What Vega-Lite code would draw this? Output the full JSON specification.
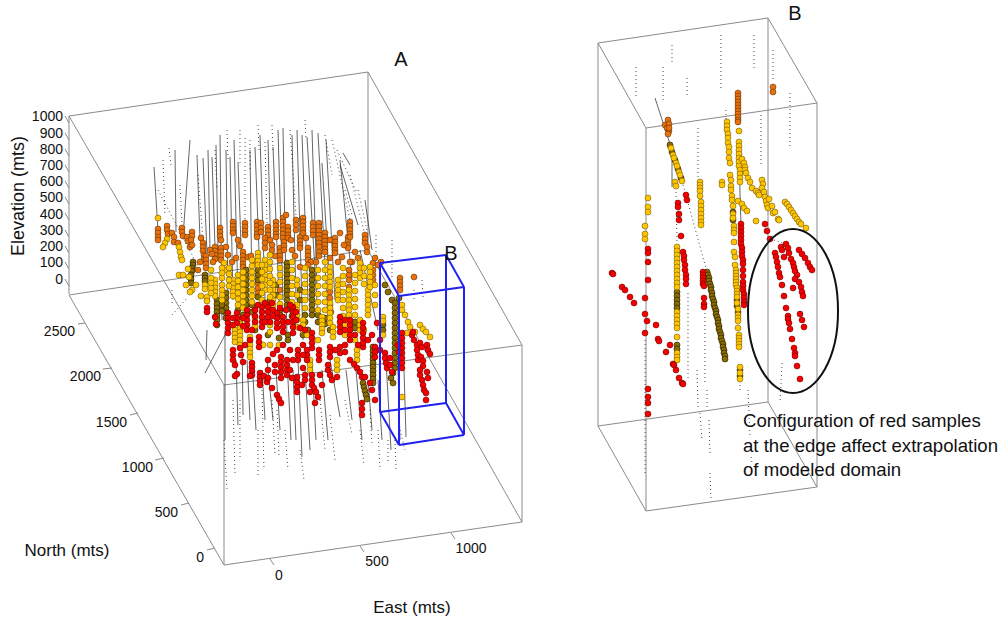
{"$schema":"https://vega.github.io/schema/vega-lite/v6.json","width":1003,"height":622,"autosize":{"type":"fit","contains":"padding"},"padding":0,"background":"white","config":{"view":{"stroke":null},"text":{"font":"Liberation Sans","color":"#111"}},
"encoding":{"x":{"field":"x","type":"quantitative","scale":{"domain":[0,1003],"nice":false,"zero":false},"axis":null},"y":{"field":"y","type":"quantitative","scale":{"domain":[622,0],"nice":false,"zero":false},"axis":null}},
"datasets":{
"wire":[{"x":69,"y":116,"x2":69,"y2":294},{"x":224,"y":385,"x2":224,"y2":565},{"x":368,"y":72,"x2":368,"y2":250},{"x":522,"y":345,"x2":522,"y2":522},{"x":69,"y":116,"x2":368,"y2":72},{"x":69,"y":116,"x2":224,"y2":385},{"x":368,"y":72,"x2":522,"y2":345},{"x":224,"y":385,"x2":522,"y2":345},{"x":69,"y":295,"x2":368,"y2":250},{"x":69,"y":295,"x2":224,"y2":565},{"x":368,"y":250,"x2":522,"y2":522},{"x":224,"y":565,"x2":522,"y2":522},
{"x":598,"y":43,"x2":598,"y2":426},{"x":646,"y":128,"x2":646,"y2":511},{"x":768,"y":18,"x2":768,"y2":402},{"x":817,"y":103,"x2":817,"y2":487},{"x":598,"y":43,"x2":768,"y2":18},{"x":598,"y":43,"x2":646,"y2":128},{"x":768,"y":18,"x2":817,"y2":103},{"x":646,"y":128,"x2":817,"y2":103},{"x":598,"y":426,"x2":768,"y2":402},{"x":598,"y":426,"x2":646,"y2":511},{"x":768,"y":402,"x2":817,"y2":487},{"x":646,"y":511,"x2":817,"y2":487},
{"x":65,"y":116,"x2":69,"y2":123},{"x":65,"y":133,"x2":69,"y2":140},{"x":65,"y":149,"x2":69,"y2":156},{"x":65,"y":165,"x2":69,"y2":172},{"x":65,"y":181,"x2":69,"y2":188},{"x":65,"y":197,"x2":69,"y2":204},{"x":65,"y":213,"x2":69,"y2":220},{"x":65,"y":230,"x2":69,"y2":237},{"x":65,"y":246,"x2":69,"y2":253},{"x":65,"y":262,"x2":69,"y2":269},{"x":65,"y":279,"x2":69,"y2":286},
{"x":78,"y":324,"x2":85,"y2":323},{"x":103,"y":369,"x2":112,"y2":368},{"x":130,"y":415,"x2":138,"y2":413},{"x":155,"y":460,"x2":164,"y2":458},{"x":181,"y":505,"x2":189,"y2":503},{"x":207,"y":550,"x2":215,"y2":548},{"x":270,"y":559,"x2":274,"y2":565},{"x":360,"y":546,"x2":364,"y2":552},{"x":451,"y":533,"x2":455,"y2":539}],
"blue":[{"x":380,"y":263,"x2":446,"y2":255},{"x":399,"y":296,"x2":464,"y2":287},{"x":380,"y":263,"x2":399,"y2":296},{"x":446,"y":255,"x2":464,"y2":287},{"x":380,"y":412,"x2":446,"y2":403},{"x":399,"y":445,"x2":464,"y2":435},{"x":380,"y":412,"x2":399,"y2":445},{"x":446,"y":403,"x2":464,"y2":435},{"x":380,"y":263,"x2":380,"y2":412},{"x":399,"y":296,"x2":399,"y2":445},{"x":446,"y":255,"x2":446,"y2":403},{"x":464,"y":287,"x2":464,"y2":435}],
"solid":[{"x":154,"y":167,"x2":158,"y2":230},{"x":190,"y":140,"x2":183,"y2":237},{"x":203,"y":158,"x2":207,"y2":253},{"x":212,"y":157,"x2":215,"y2":247},{"x":220,"y":135,"x2":222,"y2":320},{"x":230,"y":157,"x2":233,"y2":300},{"x":238,"y":162,"x2":243,"y2":300},{"x":255,"y":147,"x2":262,"y2":330},{"x":273,"y":147,"x2":280,"y2":320},{"x":283,"y":128,"x2":287,"y2":340},{"x":297,"y":130,"x2":303,"y2":340},{"x":307,"y":137,"x2":318,"y2":320},{"x":318,"y":133,"x2":328,"y2":320},{"x":322,"y":163,"x2":330,"y2":290},{"x":343,"y":153,"x2":350,"y2":165},{"x":365,"y":200,"x2":372,"y2":250},{"x":206,"y":360,"x2":207,"y2":330},{"x":225,"y":330,"x2":225,"y2":440},{"x":242,"y":340,"x2":243,"y2":415},{"x":252,"y":360,"x2":256,"y2":430},{"x":267,"y":360,"x2":273,"y2":420},{"x":287,"y":360,"x2":291,"y2":440},{"x":298,"y":360,"x2":302,"y2":457},{"x":312,"y":360,"x2":316,"y2":440},{"x":330,"y":360,"x2":340,"y2":417},{"x":356,"y":370,"x2":362,"y2":440},{"x":386,"y":360,"x2":391,"y2":450},{"x":404,"y":370,"x2":406,"y2":437},{"x":205,"y":373,"x2":226,"y2":333},{"x":175,"y":150,"x2":176,"y2":232},{"x":197,"y":155,"x2":200,"y2":240},{"x":208,"y":150,"x2":210,"y2":250},{"x":216,"y":145,"x2":218,"y2":250},{"x":226,"y":150,"x2":228,"y2":300},{"x":234,"y":140,"x2":238,"y2":300},{"x":250,"y":150,"x2":252,"y2":300},{"x":260,"y":135,"x2":265,"y2":300},{"x":268,"y":140,"x2":272,"y2":300},{"x":278,"y":130,"x2":283,"y2":300},{"x":292,"y":135,"x2":296,"y2":300},{"x":302,"y":135,"x2":308,"y2":300},{"x":312,"y":130,"x2":317,"y2":290},{"x":326,"y":140,"x2":335,"y2":300},{"x":340,"y":160,"x2":352,"y2":280},{"x":236,"y":360,"x2":238,"y2":425},{"x":247,"y":360,"x2":250,"y2":420},{"x":262,"y":370,"x2":265,"y2":420},{"x":276,"y":370,"x2":280,"y2":430},{"x":293,"y":370,"x2":296,"y2":440},{"x":305,"y":370,"x2":310,"y2":450},{"x":322,"y":370,"x2":328,"y2":440},{"x":346,"y":370,"x2":352,"y2":420},{"x":368,"y":380,"x2":372,"y2":430},{"x":378,"y":380,"x2":382,"y2":440},{"x":398,"y":370,"x2":400,"y2":440},{"x":340,"y":165,"x2":358,"y2":225},{"x":360,"y":250,"x2":378,"y2":330},{"x":655,"y":98,"x2":682,"y2":181},{"x":672,"y":153,"x2":672,"y2":187},{"x":739,"y":160,"x2":741,"y2":225}],
"dotted":[{"x":169,"y":148,"x2":171,"y2":165},{"x":198,"y":175,"x2":203,"y2":240},{"x":245,"y":138,"x2":245,"y2":230},{"x":265,"y":142,"x2":267,"y2":223},{"x":290,"y":130,"x2":296,"y2":215},{"x":332,"y":140,"x2":350,"y2":220},{"x":337,"y":150,"x2":357,"y2":193},{"x":358,"y":190,"x2":368,"y2":235},{"x":158,"y":190,"x2":200,"y2":270},{"x":172,"y":290,"x2":172,"y2":305},{"x":172,"y":315,"x2":187,"y2":298},{"x":376,"y":235,"x2":376,"y2":270},{"x":392,"y":240,"x2":392,"y2":280},{"x":414,"y":290,"x2":414,"y2":300},{"x":422,"y":280,"x2":423,"y2":298},{"x":224,"y":440,"x2":227,"y2":490},{"x":240,"y":400,"x2":240,"y2":460},{"x":258,"y":430,"x2":258,"y2":478},{"x":277,"y":410,"x2":279,"y2":455},{"x":320,"y":400,"x2":325,"y2":450},{"x":345,"y":400,"x2":352,"y2":435},{"x":370,"y":410,"x2":372,"y2":445},{"x":388,"y":440,"x2":388,"y2":462},{"x":400,"y":430,"x2":405,"y2":450},{"x":163,"y":160,"x2":165,"y2":215},{"x":180,"y":185,"x2":182,"y2":225},{"x":227,"y":130,"x2":228,"y2":160},{"x":240,"y":130,"x2":240,"y2":165},{"x":258,"y":125,"x2":259,"y2":150},{"x":272,"y":125,"x2":273,"y2":150},{"x":305,"y":120,"x2":306,"y2":140},{"x":325,"y":135,"x2":332,"y2":175},{"x":350,"y":175,"x2":365,"y2":235},{"x":345,"y":190,"x2":352,"y2":215},{"x":215,"y":150,"x2":217,"y2":190},{"x":250,"y":140,"x2":250,"y2":170},{"x":262,"y":390,"x2":264,"y2":470},{"x":233,"y":400,"x2":235,"y2":475},{"x":272,"y":400,"x2":275,"y2":455},{"x":285,"y":430,"x2":288,"y2":470},{"x":300,"y":450,"x2":304,"y2":480},{"x":330,"y":415,"x2":335,"y2":460},{"x":360,"y":430,"x2":364,"y2":465},{"x":378,"y":430,"x2":380,"y2":470},{"x":395,"y":440,"x2":396,"y2":470},
{"x":636,"y":67,"x2":636,"y2":98},{"x":663,"y":67,"x2":663,"y2":100},{"x":687,"y":78,"x2":687,"y2":95},{"x":721,"y":35,"x2":721,"y2":88},{"x":773,"y":50,"x2":773,"y2":82},{"x":790,"y":93,"x2":790,"y2":147},{"x":761,"y":115,"x2":761,"y2":167},{"x":698,"y":128,"x2":698,"y2":180},{"x":754,"y":35,"x2":754,"y2":68},{"x":726,"y":110,"x2":726,"y2":120},{"x":672,"y":45,"x2":672,"y2":62},{"x":682,"y":181,"x2":707,"y2":272},{"x":645,"y":340,"x2":645,"y2":475},{"x":688,"y":293,"x2":688,"y2":380},{"x":705,"y":313,"x2":705,"y2":383},{"x":697,"y":370,"x2":698,"y2":407},{"x":700,"y":413,"x2":702,"y2":440},{"x":707,"y":390,"x2":707,"y2":410},{"x":709,"y":420,"x2":710,"y2":455},{"x":710,"y":473,"x2":711,"y2":500},{"x":748,"y":390,"x2":750,"y2":437},{"x":751,"y":457,"x2":752,"y2":463},{"x":782,"y":363,"x2":780,"y2":403},{"x":676,"y":188,"x2":677,"y2":243},{"x":740,"y":377,"x2":740,"y2":390},{"x":770,"y":239,"x2":786,"y2":244}],
"orange":[{"x":158,"y":229},{"x":158,"y":233},{"x":158,"y":237},{"x":158,"y":240},{"x":167,"y":226},{"x":167,"y":230},{"x":168,"y":234},{"x":172,"y":233},{"x":174,"y":237},{"x":182,"y":228},{"x":182,"y":232},{"x":183,"y":236},{"x":187,"y":237},{"x":188,"y":241},{"x":192,"y":232},{"x":192,"y":236},{"x":191,"y":240},{"x":190,"y":247},{"x":192,"y":245},{"x":174,"y":242},{"x":178,"y":243},{"x":201,"y":238},{"x":203,"y":243},{"x":203,"y":247},{"x":203,"y":251},{"x":204,"y":255},{"x":204,"y":259},{"x":206,"y":256},{"x":206,"y":260},{"x":206,"y":264},{"x":206,"y":268},{"x":215,"y":247},{"x":215,"y":251},{"x":215,"y":255},{"x":215,"y":259},{"x":220,"y":228},{"x":220,"y":232},{"x":220,"y":236},{"x":221,"y":240},{"x":221,"y":248},{"x":221,"y":252},{"x":221,"y":256},{"x":221,"y":260},{"x":233,"y":222},{"x":233,"y":226},{"x":233,"y":230},{"x":233,"y":233},{"x":245,"y":223},{"x":245,"y":227},{"x":245,"y":231},{"x":245,"y":235},{"x":243,"y":252},{"x":243,"y":256},{"x":243,"y":260},{"x":243,"y":264},{"x":243,"y":267},{"x":248,"y":257},{"x":257,"y":222},{"x":257,"y":226},{"x":257,"y":230},{"x":257,"y":234},{"x":257,"y":237},{"x":261,"y":223},{"x":261,"y":228},{"x":261,"y":232},{"x":268,"y":227},{"x":268,"y":231},{"x":268,"y":235},{"x":265,"y":238},{"x":265,"y":243},{"x":265,"y":248},{"x":276,"y":222},{"x":276,"y":226},{"x":276,"y":230},{"x":276,"y":234},{"x":276,"y":237},{"x":283,"y":218},{"x":283,"y":222},{"x":283,"y":226},{"x":283,"y":230},{"x":283,"y":234},{"x":283,"y":238},{"x":286,"y":215},{"x":288,"y":227},{"x":288,"y":231},{"x":288,"y":235},{"x":288,"y":238},{"x":280,"y":248},{"x":280,"y":252},{"x":280,"y":256},{"x":280,"y":260},{"x":284,"y":242},{"x":284,"y":246},{"x":284,"y":250},{"x":296,"y":220},{"x":296,"y":225},{"x":296,"y":230},{"x":300,"y":237},{"x":300,"y":241},{"x":300,"y":245},{"x":300,"y":248},{"x":303,"y":218},{"x":303,"y":222},{"x":303,"y":226},{"x":303,"y":230},{"x":303,"y":233},{"x":308,"y":248},{"x":308,"y":252},{"x":308,"y":256},{"x":308,"y":260},{"x":313,"y":223},{"x":313,"y":227},{"x":313,"y":231},{"x":313,"y":235},{"x":319,"y":223},{"x":319,"y":227},{"x":319,"y":231},{"x":319,"y":235},{"x":319,"y":239},{"x":319,"y":243},{"x":319,"y":247},{"x":319,"y":252},{"x":319,"y":256},{"x":325,"y":233},{"x":325,"y":237},{"x":325,"y":241},{"x":325,"y":245},{"x":325,"y":249},{"x":325,"y":252},{"x":335,"y":238},{"x":335,"y":242},{"x":335,"y":246},{"x":335,"y":250},{"x":335,"y":253},{"x":340,"y":233},{"x":348,"y":237},{"x":348,"y":241},{"x":348,"y":245},{"x":348,"y":248},{"x":350,"y":222},{"x":350,"y":226},{"x":350,"y":230},{"x":350,"y":234},{"x":350,"y":237},{"x":342,"y":257},{"x":365,"y":235},{"x":365,"y":239},{"x":365,"y":243},{"x":367,"y":247},{"x":367,"y":252},{"x":381,"y":262},{"x":373,"y":263},{"x":373,"y":270},{"x":373,"y":275},{"x":373,"y":280},{"x":349,"y":270},{"x":349,"y":275},{"x":349,"y":280},{"x":349,"y":287},{"x":330,"y":292},{"x":330,"y":298},{"x":300,"y":267},{"x":245,"y":283},{"x":258,"y":283},{"x":258,"y":288},{"x":258,"y":293},{"x":400,"y":278},{"x":400,"y":282},{"x":400,"y":286},{"x":400,"y":290},{"x":414,"y":277},{"x":210,"y":250},{"x":212,"y":254},{"x":228,"y":255},{"x":232,"y":262},{"x":236,"y":258},{"x":251,"y":256},{"x":254,"y":262},{"x":272,"y":250},{"x":275,"y":256},{"x":292,"y":250},{"x":295,"y":256},{"x":311,"y":262},{"x":316,"y":262},{"x":338,"y":262},{"x":355,"y":252},{"x":358,"y":258},{"x":226,"y":247},{"x":238,"y":240},{"x":240,"y":246},{"x":270,"y":240},{"x":272,"y":245},{"x":291,"y":240},{"x":306,"y":238},{"x":330,"y":240},{"x":344,"y":245},{"x":352,"y":262},{"x":375,"y":258},{"x":378,"y":265},{"x":330,"y":258},{"x":213,"y":262},{"x":200,"y":262},{"x":198,"y":270},{"x":238,"y":285},{"x":280,"y":290},{"x":308,"y":265},{"x":330,"y":305},{"x":331,"y":312},{"x":350,"y":262},{"x":738,"y":93},{"x":738,"y":96},{"x":738,"y":99},{"x":738,"y":102},{"x":738,"y":105},{"x":738,"y":108},{"x":738,"y":111},{"x":738,"y":114},{"x":738,"y":117},{"x":738,"y":120},{"x":738,"y":122},{"x":773,"y":87},{"x":773,"y":92},{"x":665,"y":125},{"x":667,"y":128},{"x":669,"y":131},{"x":668,"y":120},{"x":669,"y":124},{"x":669,"y":128},{"x":668,"y":134}],
"dark":[{"x":193,"y":262},{"x":193,"y":265},{"x":192,"y":268},{"x":192,"y":271},{"x":191,"y":275},{"x":191,"y":279},{"x":191,"y":283},{"x":205,"y":275},{"x":205,"y":278},{"x":205,"y":281},{"x":217,"y":300},{"x":217,"y":304},{"x":217,"y":308},{"x":217,"y":312},{"x":217,"y":316},{"x":217,"y":320},{"x":217,"y":325},{"x":246,"y":270},{"x":246,"y":275},{"x":246,"y":280},{"x":246,"y":285},{"x":246,"y":290},{"x":246,"y":295},{"x":246,"y":300},{"x":246,"y":305},{"x":226,"y":293},{"x":226,"y":298},{"x":226,"y":303},{"x":226,"y":308},{"x":226,"y":313},{"x":226,"y":318},{"x":258,"y":270},{"x":258,"y":275},{"x":258,"y":280},{"x":258,"y":297},{"x":287,"y":263},{"x":287,"y":267},{"x":287,"y":271},{"x":287,"y":275},{"x":287,"y":279},{"x":287,"y":283},{"x":287,"y":287},{"x":287,"y":291},{"x":287,"y":295},{"x":287,"y":300},{"x":287,"y":305},{"x":312,"y":270},{"x":312,"y":275},{"x":312,"y":280},{"x":312,"y":285},{"x":312,"y":290},{"x":312,"y":295},{"x":312,"y":300},{"x":312,"y":305},{"x":312,"y":310},{"x":312,"y":315},{"x":276,"y":285},{"x":276,"y":295},{"x":300,"y":290},{"x":300,"y":300},{"x":303,"y":335},{"x":288,"y":335},{"x":288,"y":340},{"x":222,"y":305},{"x":222,"y":311},{"x":252,"y":305},{"x":252,"y":312},{"x":280,"y":310},{"x":280,"y":315},{"x":305,"y":315},{"x":305,"y":322},{"x":318,"y":315},{"x":318,"y":322},{"x":343,"y":325},{"x":355,"y":322},{"x":355,"y":328},{"x":270,"y":300},{"x":270,"y":305},{"x":292,"y":310},{"x":292,"y":316},{"x":238,"y":310},{"x":243,"y":315},{"x":255,"y":330},{"x":268,"y":335},{"x":279,"y":338},{"x":308,"y":330},{"x":325,"y":318},{"x":325,"y":324},{"x":330,"y":330},{"x":373,"y":347},{"x":373,"y":351},{"x":373,"y":355},{"x":373,"y":359},{"x":373,"y":363},{"x":373,"y":367},{"x":373,"y":371},{"x":373,"y":375},{"x":373,"y":379},{"x":373,"y":383},{"x":363,"y":383},{"x":364,"y":387},{"x":365,"y":391},{"x":366,"y":395},{"x":367,"y":399},{"x":385,"y":285},{"x":388,"y":292},{"x":392,"y":300},{"x":395,"y":303},{"x":395,"y":308},{"x":395,"y":313},{"x":395,"y":318},{"x":395,"y":323},{"x":395,"y":328},{"x":395,"y":333},{"x":395,"y":338},{"x":395,"y":343},{"x":395,"y":348},{"x":395,"y":353},{"x":395,"y":358},{"x":395,"y":363},{"x":395,"y":368},{"x":393,"y":373},{"x":391,"y":378},{"x":393,"y":383},{"x":383,"y":325},{"x":383,"y":330},{"x":399,"y":298},{"x":707,"y":272},{"x":708,"y":275},{"x":709,"y":278},{"x":709,"y":281},{"x":710,"y":284},{"x":711,"y":287},{"x":711,"y":290},{"x":712,"y":293},{"x":712,"y":296},{"x":713,"y":299},{"x":714,"y":302},{"x":714,"y":305},{"x":715,"y":308},{"x":716,"y":311},{"x":716,"y":314},{"x":717,"y":317},{"x":718,"y":320},{"x":718,"y":323},{"x":719,"y":326},{"x":719,"y":329},{"x":720,"y":332},{"x":721,"y":335},{"x":721,"y":338},{"x":722,"y":341},{"x":723,"y":344},{"x":723,"y":347},{"x":724,"y":350},{"x":724,"y":353},{"x":725,"y":356},{"x":725,"y":359},{"x":677,"y":292},{"x":677,"y":296},{"x":677,"y":300},{"x":677,"y":304},{"x":677,"y":308},{"x":677,"y":345},{"x":677,"y":349},{"x":670,"y":145},{"x":672,"y":152},{"x":675,"y":160},{"x":678,"y":169},{"x":681,"y":178},{"x":737,"y":300},{"x":737,"y":306},{"x":738,"y":312},{"x":740,"y":370},{"x":740,"y":376},{"x":733,"y":212},{"x":733,"y":220}],
"yellow":[{"x":158,"y":218},{"x":167,"y":239},{"x":165,"y":243},{"x":163,"y":247},{"x":179,"y":247},{"x":180,"y":252},{"x":181,"y":257},{"x":182,"y":260},{"x":188,"y":269},{"x":189,"y":277},{"x":179,"y":275},{"x":183,"y":275},{"x":186,"y":285},{"x":192,"y":290},{"x":190,"y":292},{"x":196,"y":285},{"x":201,"y":296},{"x":207,"y":297},{"x":207,"y":301},{"x":205,"y":285},{"x":205,"y":289},{"x":215,"y":280},{"x":215,"y":284},{"x":215,"y":288},{"x":215,"y":292},{"x":215,"y":296},{"x":211,"y":270},{"x":224,"y":263},{"x":226,"y":270},{"x":222,"y":285},{"x":233,"y":280},{"x":233,"y":284},{"x":233,"y":288},{"x":233,"y":292},{"x":233,"y":296},{"x":235,"y":330},{"x":235,"y":334},{"x":235,"y":338},{"x":235,"y":342},{"x":240,"y":320},{"x":240,"y":324},{"x":240,"y":328},{"x":240,"y":332},{"x":240,"y":336},{"x":240,"y":340},{"x":240,"y":345},{"x":250,"y":337},{"x":250,"y":341},{"x":250,"y":345},{"x":250,"y":349},{"x":250,"y":353},{"x":250,"y":357},{"x":258,"y":253},{"x":258,"y":257},{"x":258,"y":261},{"x":258,"y":265},{"x":265,"y":260},{"x":265,"y":265},{"x":265,"y":270},{"x":265,"y":275},{"x":265,"y":280},{"x":265,"y":285},{"x":265,"y":290},{"x":273,"y":280},{"x":273,"y":285},{"x":273,"y":290},{"x":273,"y":295},{"x":273,"y":300},{"x":273,"y":305},{"x":297,"y":280},{"x":297,"y":285},{"x":297,"y":295},{"x":297,"y":305},{"x":297,"y":310},{"x":297,"y":315},{"x":297,"y":320},{"x":297,"y":327},{"x":303,"y":320},{"x":303,"y":325},{"x":303,"y":330},{"x":322,"y":317},{"x":322,"y":321},{"x":322,"y":325},{"x":322,"y":329},{"x":322,"y":333},{"x":330,"y":267},{"x":330,"y":272},{"x":330,"y":277},{"x":330,"y":282},{"x":330,"y":287},{"x":330,"y":303},{"x":330,"y":308},{"x":330,"y":313},{"x":330,"y":318},{"x":330,"y":323},{"x":338,"y":280},{"x":338,"y":285},{"x":338,"y":290},{"x":338,"y":295},{"x":338,"y":300},{"x":349,"y":290},{"x":349,"y":295},{"x":349,"y":300},{"x":349,"y":305},{"x":349,"y":310},{"x":349,"y":315},{"x":360,"y":263},{"x":360,"y":268},{"x":360,"y":273},{"x":360,"y":278},{"x":368,"y":290},{"x":368,"y":295},{"x":368,"y":300},{"x":368,"y":305},{"x":368,"y":310},{"x":368,"y":315},{"x":360,"y":320},{"x":360,"y":325},{"x":360,"y":330},{"x":370,"y":267},{"x":370,"y":272},{"x":370,"y":277},{"x":370,"y":282},{"x":370,"y":287},{"x":333,"y":327},{"x":333,"y":332},{"x":333,"y":337},{"x":310,"y":360},{"x":310,"y":365},{"x":310,"y":370},{"x":337,"y":360},{"x":337,"y":365},{"x":337,"y":370},{"x":357,"y":350},{"x":357,"y":355},{"x":357,"y":360},{"x":383,"y":317},{"x":383,"y":321},{"x":383,"y":335},{"x":402,"y":305},{"x":402,"y":310},{"x":405,"y":315},{"x":408,"y":322},{"x":410,"y":327},{"x":420,"y":325},{"x":423,"y":329},{"x":426,"y":332},{"x":430,"y":337},{"x":407,"y":333},{"x":415,"y":332},{"x":402,"y":397},{"x":211,"y":278},{"x":211,"y":283},{"x":211,"y":288},{"x":211,"y":293},{"x":222,"y":268},{"x":222,"y":273},{"x":222,"y":278},{"x":222,"y":290},{"x":222,"y":295},{"x":222,"y":300},{"x":229,"y":268},{"x":229,"y":274},{"x":229,"y":280},{"x":229,"y":286},{"x":238,"y":275},{"x":238,"y":281},{"x":238,"y":287},{"x":238,"y":293},{"x":238,"y":299},{"x":238,"y":305},{"x":243,"y":272},{"x":243,"y":278},{"x":243,"y":284},{"x":243,"y":290},{"x":243,"y":296},{"x":243,"y":302},{"x":243,"y":308},{"x":252,"y":260},{"x":252,"y":266},{"x":252,"y":272},{"x":252,"y":278},{"x":252,"y":284},{"x":252,"y":290},{"x":252,"y":296},{"x":252,"y":302},{"x":255,"y":310},{"x":255,"y":318},{"x":255,"y":326},{"x":262,"y":265},{"x":262,"y":272},{"x":262,"y":279},{"x":262,"y":286},{"x":262,"y":293},{"x":262,"y":300},{"x":270,"y":255},{"x":270,"y":262},{"x":270,"y":269},{"x":270,"y":276},{"x":270,"y":283},{"x":270,"y":290},{"x":270,"y":297},{"x":270,"y":325},{"x":270,"y":332},{"x":280,"y":268},{"x":280,"y":275},{"x":280,"y":282},{"x":280,"y":297},{"x":280,"y":304},{"x":292,"y":262},{"x":292,"y":270},{"x":292,"y":278},{"x":292,"y":286},{"x":292,"y":294},{"x":292,"y":302},{"x":305,"y":268},{"x":305,"y":276},{"x":305,"y":284},{"x":305,"y":292},{"x":305,"y":300},{"x":305,"y":308},{"x":318,"y":270},{"x":318,"y":278},{"x":318,"y":286},{"x":318,"y":294},{"x":318,"y":302},{"x":318,"y":310},{"x":325,"y":262},{"x":325,"y":270},{"x":325,"y":278},{"x":325,"y":286},{"x":325,"y":294},{"x":325,"y":302},{"x":325,"y":310},{"x":343,"y":268},{"x":343,"y":276},{"x":343,"y":284},{"x":343,"y":292},{"x":343,"y":300},{"x":343,"y":308},{"x":343,"y":316},{"x":355,"y":275},{"x":355,"y":283},{"x":355,"y":291},{"x":355,"y":299},{"x":355,"y":307},{"x":355,"y":315},{"x":364,"y":268},{"x":364,"y":276},{"x":364,"y":284},{"x":364,"y":330},{"x":375,"y":285},{"x":375,"y":295},{"x":375,"y":305},{"x":345,"y":325},{"x":345,"y":335},{"x":355,"y":340},{"x":307,"y":335},{"x":318,"y":340},{"x":279,"y":345},{"x":270,"y":345},{"x":263,"y":345},{"x":648,"y":198},{"x":648,"y":207},{"x":648,"y":212},{"x":645,"y":226},{"x":645,"y":234},{"x":645,"y":239},{"x":671,"y":148},{"x":673,"y":155},{"x":674,"y":158},{"x":676,"y":163},{"x":677,"y":166},{"x":679,"y":172},{"x":680,"y":175},{"x":682,"y":181},{"x":675,"y":182},{"x":676,"y":186},{"x":700,"y":182},{"x":700,"y":185},{"x":700,"y":188},{"x":700,"y":191},{"x":700,"y":196},{"x":701,"y":202},{"x":701,"y":206},{"x":701,"y":210},{"x":701,"y":214},{"x":701,"y":218},{"x":701,"y":222},{"x":701,"y":225},{"x":722,"y":182},{"x":722,"y":185},{"x":727,"y":122},{"x":727,"y":126},{"x":727,"y":130},{"x":728,"y":134},{"x":728,"y":138},{"x":728,"y":143},{"x":729,"y":147},{"x":729,"y":152},{"x":729,"y":158},{"x":730,"y":163},{"x":730,"y":175},{"x":731,"y":180},{"x":731,"y":186},{"x":731,"y":190},{"x":732,"y":196},{"x":732,"y":200},{"x":733,"y":206},{"x":733,"y":214},{"x":733,"y":218},{"x":734,"y":226},{"x":734,"y":230},{"x":734,"y":233},{"x":734,"y":242},{"x":734,"y":252},{"x":735,"y":257},{"x":735,"y":265},{"x":736,"y":270},{"x":736,"y":273},{"x":736,"y":276},{"x":736,"y":279},{"x":736,"y":282},{"x":736,"y":285},{"x":737,"y":288},{"x":737,"y":291},{"x":737,"y":294},{"x":737,"y":297},{"x":737,"y":303},{"x":738,"y":309},{"x":738,"y":315},{"x":738,"y":318},{"x":738,"y":321},{"x":738,"y":328},{"x":739,"y":335},{"x":739,"y":338},{"x":739,"y":341},{"x":739,"y":344},{"x":739,"y":347},{"x":740,"y":367},{"x":740,"y":373},{"x":740,"y":379},{"x":739,"y":131},{"x":739,"y":142},{"x":739,"y":146},{"x":739,"y":150},{"x":739,"y":154},{"x":739,"y":158},{"x":739,"y":162},{"x":739,"y":166},{"x":740,"y":170},{"x":740,"y":174},{"x":740,"y":178},{"x":740,"y":182},{"x":742,"y":159},{"x":744,"y":163},{"x":745,"y":167},{"x":745,"y":170},{"x":746,"y":173},{"x":748,"y":178},{"x":750,"y":182},{"x":752,"y":188},{"x":756,"y":191},{"x":758,"y":193},{"x":759,"y":195},{"x":762,"y":180},{"x":763,"y":184},{"x":762,"y":188},{"x":764,"y":192},{"x":765,"y":197},{"x":766,"y":201},{"x":767,"y":205},{"x":768,"y":208},{"x":769,"y":199},{"x":772,"y":206},{"x":773,"y":213},{"x":775,"y":212},{"x":778,"y":219},{"x":779,"y":220},{"x":785,"y":202},{"x":787,"y":204},{"x":789,"y":207},{"x":791,"y":210},{"x":793,"y":213},{"x":795,"y":216},{"x":797,"y":219},{"x":799,"y":222},{"x":801,"y":224},{"x":806,"y":228},{"x":738,"y":201},{"x":742,"y":204},{"x":744,"y":208},{"x":747,"y":211},{"x":756,"y":221},{"x":677,"y":247},{"x":677,"y":251},{"x":677,"y":255},{"x":677,"y":259},{"x":677,"y":263},{"x":677,"y":267},{"x":677,"y":271},{"x":677,"y":275},{"x":677,"y":279},{"x":677,"y":283},{"x":677,"y":287},{"x":677,"y":312},{"x":677,"y":316},{"x":677,"y":320},{"x":677,"y":324},{"x":677,"y":328},{"x":677,"y":337},{"x":677,"y":353},{"x":677,"y":357},{"x":677,"y":360}],
"red":[{"x":207,"y":308},{"x":207,"y":312},{"x":215,"y":317},{"x":216,"y":324},{"x":228,"y":313},{"x":228,"y":318},{"x":228,"y":323},{"x":228,"y":328},{"x":228,"y":333},{"x":237,"y":313},{"x":237,"y":318},{"x":237,"y":323},{"x":247,"y":310},{"x":247,"y":315},{"x":247,"y":320},{"x":247,"y":325},{"x":247,"y":330},{"x":262,"y":307},{"x":262,"y":312},{"x":262,"y":317},{"x":262,"y":322},{"x":262,"y":327},{"x":268,"y":307},{"x":268,"y":312},{"x":268,"y":317},{"x":272,"y":303},{"x":277,"y":313},{"x":277,"y":318},{"x":277,"y":323},{"x":277,"y":328},{"x":283,"y":317},{"x":283,"y":322},{"x":283,"y":327},{"x":283,"y":332},{"x":293,"y":307},{"x":293,"y":312},{"x":293,"y":317},{"x":293,"y":322},{"x":293,"y":327},{"x":293,"y":333},{"x":233,"y":350},{"x":233,"y":355},{"x":233,"y":360},{"x":250,"y":340},{"x":259,"y":337},{"x":259,"y":342},{"x":259,"y":347},{"x":240,"y":348},{"x":252,"y":363},{"x":252,"y":367},{"x":252,"y":371},{"x":252,"y":375},{"x":237,"y":374},{"x":235,"y":376},{"x":250,"y":376},{"x":260,"y":373},{"x":260,"y":377},{"x":260,"y":381},{"x":260,"y":385},{"x":264,"y":376},{"x":267,"y":382},{"x":272,"y":388},{"x":277,"y":395},{"x":279,"y":399},{"x":281,"y":403},{"x":268,"y":360},{"x":273,"y":354},{"x":277,"y":350},{"x":281,"y":357},{"x":281,"y":362},{"x":281,"y":367},{"x":281,"y":372},{"x":281,"y":378},{"x":287,"y":360},{"x":287,"y":365},{"x":287,"y":370},{"x":287,"y":375},{"x":298,"y":350},{"x":298,"y":355},{"x":298,"y":360},{"x":307,"y":350},{"x":307,"y":355},{"x":307,"y":360},{"x":312,"y":333},{"x":312,"y":338},{"x":312,"y":343},{"x":312,"y":348},{"x":319,"y":350},{"x":319,"y":355},{"x":319,"y":360},{"x":297,"y":377},{"x":297,"y":382},{"x":297,"y":387},{"x":297,"y":392},{"x":312,"y":375},{"x":312,"y":380},{"x":312,"y":385},{"x":314,"y":388},{"x":318,"y":397},{"x":315,"y":403},{"x":310,"y":392},{"x":330,"y":347},{"x":330,"y":352},{"x":330,"y":357},{"x":340,"y":317},{"x":340,"y":322},{"x":340,"y":327},{"x":340,"y":332},{"x":350,"y":320},{"x":350,"y":325},{"x":350,"y":330},{"x":350,"y":335},{"x":350,"y":340},{"x":340,"y":347},{"x":340,"y":353},{"x":328,"y":365},{"x":328,"y":370},{"x":330,"y":375},{"x":332,"y":380},{"x":337,"y":377},{"x":350,"y":360},{"x":354,"y":364},{"x":357,"y":368},{"x":360,"y":372},{"x":362,"y":377},{"x":365,"y":377},{"x":370,"y":383},{"x":372,"y":390},{"x":375,"y":400},{"x":362,"y":403},{"x":362,"y":409},{"x":362,"y":415},{"x":363,"y":347},{"x":363,"y":323},{"x":363,"y":328},{"x":363,"y":333},{"x":363,"y":338},{"x":363,"y":343},{"x":377,"y":323},{"x":375,"y":347},{"x":375,"y":352},{"x":375,"y":357},{"x":385,"y":353},{"x":385,"y":358},{"x":386,"y":363},{"x":387,"y":368},{"x":402,"y":333},{"x":402,"y":338},{"x":402,"y":343},{"x":402,"y":348},{"x":402,"y":353},{"x":402,"y":358},{"x":402,"y":363},{"x":402,"y":368},{"x":412,"y":335},{"x":414,"y":340},{"x":417,"y":345},{"x":417,"y":350},{"x":418,"y":355},{"x":418,"y":360},{"x":420,"y":343},{"x":422,"y":347},{"x":427,"y":345},{"x":428,"y":350},{"x":430,"y":354},{"x":421,"y":357},{"x":423,"y":361},{"x":423,"y":366},{"x":420,"y":370},{"x":420,"y":375},{"x":422,"y":380},{"x":423,"y":385},{"x":424,"y":390},{"x":426,"y":393},{"x":426,"y":400},{"x":427,"y":372},{"x":428,"y":378},{"x":255,"y":310},{"x":255,"y":316},{"x":255,"y":322},{"x":258,"y":305},{"x":265,"y":303},{"x":265,"y":322},{"x":270,"y":322},{"x":273,"y":310},{"x":273,"y":316},{"x":280,"y":308},{"x":286,"y":310},{"x":288,"y":322},{"x":296,"y":312},{"x":296,"y":320},{"x":290,"y":305},{"x":300,"y":328},{"x":305,"y":330},{"x":233,"y":318},{"x":233,"y":325},{"x":243,"y":318},{"x":243,"y":326},{"x":252,"y":330},{"x":235,"y":365},{"x":245,"y":345},{"x":283,"y":345},{"x":290,"y":350},{"x":293,"y":360},{"x":303,"y":345},{"x":303,"y":355},{"x":290,"y":370},{"x":292,"y":378},{"x":345,"y":345},{"x":345,"y":352},{"x":335,"y":350},{"x":355,"y":335},{"x":358,"y":345},{"x":368,"y":340},{"x":372,"y":335},{"x":380,"y":340},{"x":380,"y":350},{"x":345,"y":320},{"x":345,"y":330},{"x":305,"y":375},{"x":305,"y":380},{"x":320,"y":375},{"x":322,"y":385},{"x":316,"y":392},{"x":303,"y":368},{"x":302,"y":385},{"x":275,"y":365},{"x":275,"y":372},{"x":268,"y":370},{"x":268,"y":378},{"x":390,"y":358},{"x":390,"y":365},{"x":392,"y":372},{"x":398,"y":345},{"x":399,"y":352},{"x":413,"y":332},{"x":241,"y":355},{"x":243,"y":362},
{"x":686,"y":195},{"x":687,"y":200},{"x":678,"y":203},{"x":678,"y":207},{"x":679,"y":214},{"x":679,"y":220},{"x":681,"y":236},{"x":648,"y":249},{"x":648,"y":253},{"x":648,"y":262},{"x":648,"y":280},{"x":645,"y":298},{"x":645,"y":314},{"x":647,"y":321},{"x":645,"y":333},{"x":648,"y":389},{"x":648,"y":397},{"x":648,"y":403},{"x":648,"y":414},{"x":612,"y":273},{"x":613,"y":274},{"x":622,"y":287},{"x":625,"y":290},{"x":630,"y":297},{"x":634,"y":303},{"x":656,"y":325},{"x":658,"y":339},{"x":659,"y":341},{"x":670,"y":345},{"x":666,"y":352},{"x":673,"y":364},{"x":674,"y":365},{"x":676,"y":370},{"x":679,"y":378},{"x":682,"y":383},{"x":683,"y":384},{"x":683,"y":252},{"x":684,"y":256},{"x":684,"y":260},{"x":685,"y":265},{"x":685,"y":270},{"x":686,"y":275},{"x":686,"y":279},{"x":686,"y":284},{"x":703,"y":272},{"x":703,"y":275},{"x":703,"y":278},{"x":703,"y":281},{"x":703,"y":284},{"x":704,"y":286},{"x":704,"y":298},{"x":704,"y":304},{"x":704,"y":307},{"x":741,"y":224},{"x":741,"y":228},{"x":741,"y":232},{"x":741,"y":236},{"x":741,"y":240},{"x":741,"y":244},{"x":742,"y":248},{"x":742,"y":252},{"x":742,"y":256},{"x":743,"y":260},{"x":743,"y":264},{"x":743,"y":270},{"x":743,"y":276},{"x":743,"y":282},{"x":743,"y":286},{"x":743,"y":290},{"x":744,"y":294},{"x":744,"y":298},{"x":744,"y":302},{"x":744,"y":305},{"x":765,"y":224},{"x":767,"y":231},{"x":770,"y":239},{"x":775,"y":253},{"x":776,"y":257},{"x":777,"y":262},{"x":778,"y":267},{"x":779,"y":273},{"x":780,"y":277},{"x":782,"y":285},{"x":784,"y":296},{"x":786,"y":308},{"x":788,"y":316},{"x":788,"y":319},{"x":789,"y":323},{"x":790,"y":329},{"x":792,"y":339},{"x":794,"y":348},{"x":795,"y":353},{"x":795,"y":356},{"x":797,"y":366},{"x":800,"y":379},{"x":781,"y":247},{"x":782,"y":250},{"x":784,"y":257},{"x":786,"y":244},{"x":788,"y":248},{"x":789,"y":253},{"x":791,"y":259},{"x":793,"y":263},{"x":794,"y":267},{"x":795,"y":271},{"x":797,"y":275},{"x":795,"y":279},{"x":793,"y":288},{"x":799,"y":282},{"x":801,"y":287},{"x":802,"y":292},{"x":803,"y":296},{"x":799,"y":250},{"x":802,"y":254},{"x":805,"y":258},{"x":808,"y":263},{"x":810,"y":267},{"x":812,"y":270},{"x":800,"y":314},{"x":802,"y":320},{"x":804,"y":327}],
"ell":[{"o":1,"x":838,"y":311},{"o":2,"x":835,"y":342},{"o":3,"x":825,"y":369},{"o":4,"x":810,"y":387},{"o":5,"x":793,"y":393},{"o":6,"x":776,"y":387},{"o":7,"x":761,"y":369},{"o":8,"x":751,"y":342},{"o":9,"x":748,"y":311},{"o":10,"x":751,"y":280},{"o":11,"x":761,"y":253},{"o":12,"x":776,"y":235},{"o":13,"x":793,"y":229},{"o":14,"x":810,"y":235},{"o":15,"x":825,"y":253},{"o":16,"x":835,"y":280}],
"elev":[{"t":"1000","x":63,"y":117},{"t":"900","x":63,"y":134},{"t":"800","x":63,"y":150},{"t":"700","x":63,"y":166},{"t":"600","x":63,"y":182},{"t":"500","x":63,"y":198},{"t":"400","x":63,"y":215},{"t":"300","x":63,"y":231},{"t":"200","x":63,"y":247},{"t":"100","x":63,"y":263},{"t":"0","x":63,"y":280},{"t":"2500","x":75,"y":332},{"t":"2000","x":101,"y":377},{"t":"1500","x":127,"y":423},{"t":"1000","x":153,"y":468},{"t":"500","x":178,"y":513},{"t":"0","x":204,"y":558}],
"east":[{"t":"0","x":279,"y":576},{"t":"500","x":377,"y":562},{"t":"1000","x":471,"y":549}],
"titles":[{"t":"North (mts)","x":67,"y":551},{"t":"East (mts)","x":412,"y":608}],
"letters":[{"t":"A","x":401,"y":60},{"t":"B","x":451,"y":254},{"t":"B","x":795,"y":14}],
"note":[{"t":"Configuration of red samples","x":743,"y":421},{"t":"at the edge affect extrapolation","x":743,"y":446},{"t":"of modeled domain","x":743,"y":470}],
"ytitle":[{"t":"Elevation (mts)","x":19,"y":196}]
},
"layer":[
{"data":{"name":"wire"},"mark":{"type":"rule","color":"#8a8a8a","strokeWidth":1},"encoding":{"x2":{"field":"x2"},"y2":{"field":"y2"}}},
{"data":{"name":"solid"},"mark":{"type":"rule","color":"#222","strokeWidth":0.7},"encoding":{"x2":{"field":"x2"},"y2":{"field":"y2"}}},
{"data":{"name":"dotted"},"mark":{"type":"rule","color":"#333","strokeWidth":0.9,"strokeDash":[1,3]},"encoding":{"x2":{"field":"x2"},"y2":{"field":"y2"}}},
{"data":{"name":"orange"},"mark":{"type":"point","filled":true,"size":36,"fill":"#e8700c","fillOpacity":1,"stroke":"#4a2a00","strokeWidth":0.5,"strokeOpacity":1,"opacity":1}},
{"data":{"name":"dark"},"mark":{"type":"point","filled":true,"size":36,"fill":"#8a6c00","fillOpacity":1,"stroke":"#201800","strokeWidth":0.6,"strokeOpacity":1,"opacity":1}},
{"data":{"name":"yellow"},"mark":{"type":"point","filled":true,"size":36,"fill":"#ffc400","fillOpacity":1,"stroke":"#5a4800","strokeWidth":0.5,"strokeOpacity":1,"opacity":1}},
{"data":{"name":"red"},"mark":{"type":"point","filled":true,"size":36,"fill":"#f50000","fillOpacity":1,"stroke":"#5a0000","strokeWidth":0.5,"strokeOpacity":1,"opacity":1}},
{"data":{"name":"blue"},"mark":{"type":"rule","color":"#2020f0","strokeWidth":2},"encoding":{"x2":{"field":"x2"},"y2":{"field":"y2"}}},
{"data":{"name":"ell"},"mark":{"type":"line","color":"#111","strokeWidth":2,"interpolate":"cardinal-closed","tension":0},"encoding":{"order":{"field":"o","type":"quantitative"}}},
{"data":{"name":"elev"},"mark":{"type":"text","fontSize":14,"align":"right","baseline":"middle"},"encoding":{"text":{"field":"t"}}},
{"data":{"name":"east"},"mark":{"type":"text","fontSize":14,"align":"center","baseline":"middle"},"encoding":{"text":{"field":"t"}}},
{"data":{"name":"titles"},"mark":{"type":"text","fontSize":17,"align":"center","baseline":"middle"},"encoding":{"text":{"field":"t"}}},
{"data":{"name":"ytitle"},"mark":{"type":"text","fontSize":18,"angle":270,"align":"center","baseline":"middle"},"encoding":{"text":{"field":"t"}}},
{"data":{"name":"letters"},"mark":{"type":"text","fontSize":20,"align":"center","baseline":"middle"},"encoding":{"text":{"field":"t"}}},
{"data":{"name":"note"},"mark":{"type":"text","fontSize":18.6,"align":"left","baseline":"middle"},"encoding":{"text":{"field":"t"}}}
]}
